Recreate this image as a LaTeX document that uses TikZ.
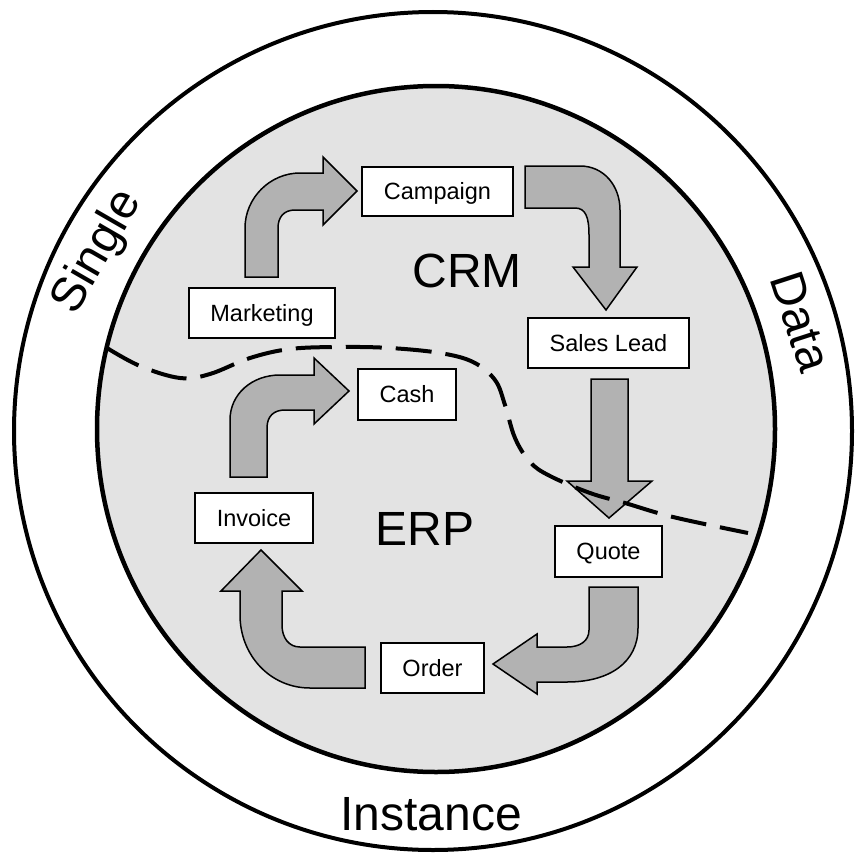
\documentclass[tikz,border=0pt]{standalone}
\usepackage{fontspec}
\setmainfont{Liberation Sans}
\begin{document}
\begin{tikzpicture}[x=1pt,y=-1pt,
  box/.style={draw=black, line width=1.8pt, fill=white, inner sep=0pt,
    font=\fontsize{23.5}{28}\selectfont, text height=16.8pt, text depth=0pt},
  blk/.style={draw=black, line width=1.5pt, fill=black!30, line join=miter},
  big/.style={inner sep=0pt, font=\fontsize{48}{56}\selectfont},
  ring/.style={inner sep=0pt, font=\fontsize{48}{56}\selectfont, text height=34.4pt, text depth=0pt},
  divider/.style={line width=4pt, dash pattern=on 36pt off 14pt}]
\useasboundingbox (0,0) rectangle (854,859);
% circles
\draw[line width=4pt] (433,431) circle[radius=419];
\draw[line width=4.5pt, fill=black!11] (436,429) ellipse[x radius=339, y radius=343];
% ring labels
\node[ring, rotate=60] (single) at (94,250) {Single};
\node[ring, rotate=-72] (data) at (802,321) {Data};
\node[big, anchor=base] (instance) at (431,830) {Instance};
\node[big, anchor=base] (crm) at (467,287) {CRM};
\node[big, anchor=base] (erp) at (425,545) {ERP};
% boxes
\node[box, minimum width=151pt, minimum height=49pt] (campaign) at (437.5,191.5) {Campaign};
\node[box, minimum width=146pt, minimum height=50pt] (marketing) at (262,313) {Marketing};
\node[box, minimum width=161pt, minimum height=50pt] (sales) at (608.5,343) {Sales Lead};
\node[box, minimum width=98pt, minimum height=51pt] (cash) at (407,394.5) {Cash};
\node[box, minimum width=118pt, minimum height=50pt] (invoice) at (254,518) {Invoice};
\node[box, minimum width=107pt, minimum height=51pt] (quote) at (608.5,551.5) {Quote};
\node[box, minimum width=103pt, minimum height=50pt] (order) at (432.5,668) {Order};
% block arrows
% Marketing -> Campaign
\draw[blk] (245,277) -- (245,228) .. controls (245,198) and (270,173) .. (300,173)
  -- (323,173) -- (323,157) -- (357,191) -- (323,225) -- (323,210) -- (295,210)
  .. controls (284,210) and (278,217) .. (278,228) -- (278,277) -- cycle;
% Campaign -> Sales Lead
\draw[blk] (525,166) -- (580,166) .. controls (604,166) and (620,186) .. (620,210)
  -- (620,267) -- (637,267) -- (606,310) -- (573,267) -- (589,267) -- (589,235)
  .. controls (589,218) and (586,208) .. (575,208) -- (525,208) -- cycle;
% Sales Lead -> Quote
\draw[blk] (591,379) -- (628,379) -- (628,481) -- (652,481) -- (609,518) -- (567,481) -- (591,481) -- cycle;
% Quote -> Order
\draw[blk] (589,587) -- (638,587) -- (638,628) .. controls (638,662) and (610,682) .. (567,682)
  -- (537,682) -- (537,694) -- (493,664) -- (537,634) -- (537,647) -- (567,647)
  .. controls (580,647) and (589,641) .. (589,630) -- cycle;
% Order -> Invoice
\draw[blk] (365,647) -- (365,688) -- (310,688) .. controls (270,688) and (240,655) .. (240,615)
  -- (240,591) -- (221,591) -- (261,550) -- (302,591) -- (282,591) -- (282,625)
  .. controls (282,638) and (289,647) .. (300,647) -- cycle;
% Invoice -> Cash
\draw[blk] (230,477) -- (230,420) .. controls (230,394) and (252,375) .. (280,375)
  -- (314,375) -- (314,358) -- (349,391) -- (314,424) -- (314,410) -- (285,410)
  .. controls (274,410) and (267,416) .. (267,428) -- (267,477) -- cycle;
% CRM / ERP divider
\draw[divider] plot[smooth, tension=0.6] coordinates {(107,348) (140,366) (180,378) (210,374) (250,358) (290,349) (340,347) (390,348) (440,353) (473,362) (495,380) (505,405) (515,438) (530,462) (550,476) (590,493) (625,503) (673,517) (748,533)};
\end{tikzpicture}
\end{document}
